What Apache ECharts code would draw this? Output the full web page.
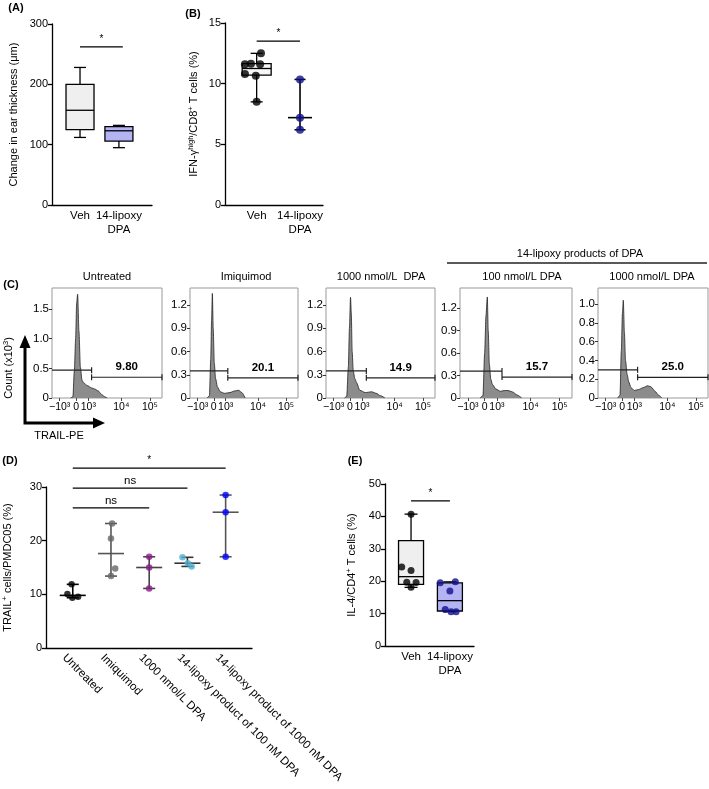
<!DOCTYPE html>
<html><head><meta charset="utf-8">
<script src="https://cdn.jsdelivr.net/npm/echarts@6/dist/echarts.min.js"></script>
<style>html,body{margin:0;padding:0;background:#fff}#c{width:709px;height:789px}</style>
</head><body><div id="c"></div>
<script>
// ---------- DATA ----------
// Panel A
const catsAE = ['Veh', '14-lipoxy\nDPA'];
const boxAVeh = [112, 125, 157, 200, 228];
const boxALipoxy = [95, 106, 123, 130, 132];
const sigA = [0, 1.1, 262, '*'];
// Panel B
const bVehValues = [12.5, 11.6, 11.65, 11.6, 10.8, 10.65, 8.5];
const bVehJitter = [0.1, -0.27, -0.13, 0.08, -0.27, -0.02, 0];
const bVehBox = [8.5, 10.7, 11.25, 11.65, 12.5];
const bLipoxyValues = [10.35, 7.2, 6.2];
const sigB = [0, 1, 13.5, '*'];
// Panel C
const histTitles = ['Untreated', 'Imiquimod', '1000 nmol/L  DPA', '100 nmol/L DPA', '1000 nmol/L DPA'];
const xTickPos = [0.07, 0.22, 0.33, 0.63, 0.89];
const xTickLabels = ['−10³', '0', '10³', '10⁴', '10⁵'];
const hx1 = [0.17, 0.19, 0.203, 0.215, 0.224, 0.233, 0.245, 0.258, 0.273, 0.29, 0.32, 0.36, 0.39, 0.42, 0.45, 0.48, 0.5];
const hy1 = [0, 0.02, 0.46, 1.0, 1.6, 1.75, 1.13, 0.52, 0.3, 0.25, 0.21, 0.17, 0.15, 0.12, 0.06, 0.02, 0];
const hx2 = [0.16, 0.18, 0.192, 0.2, 0.207, 0.215, 0.225, 0.237, 0.255, 0.28, 0.32, 0.37, 0.41, 0.45, 0.48, 0.51];
const hy2 = [0, 0.03, 0.5, 1.0, 1.35, 0.9, 0.45, 0.25, 0.14, 0.08, 0.06, 0.07, 0.09, 0.1, 0.07, 0];
const hx3 = [0.17, 0.19, 0.205, 0.215, 0.225, 0.232, 0.24, 0.25, 0.265, 0.28, 0.31, 0.36, 0.42, 0.46, 0.5, 0.54];
const hy3 = [0, 0.02, 0.4, 0.9, 1.3, 1.1, 0.6, 0.35, 0.25, 0.2, 0.1, 0.07, 0.08, 0.06, 0.03, 0];
const hx4 = [0.18, 0.205, 0.22, 0.232, 0.244, 0.252, 0.262, 0.275, 0.29, 0.32, 0.36, 0.4, 0.43, 0.47, 0.51, 0.55];
const hy4 = [0, 0.03, 0.6, 1.1, 1.35, 0.9, 0.45, 0.25, 0.18, 0.12, 0.09, 0.1, 0.1, 0.08, 0.04, 0];
const hx5 = [0.18, 0.2, 0.212, 0.222, 0.23, 0.24, 0.25, 0.265, 0.28, 0.3, 0.33, 0.37, 0.41, 0.45, 0.48, 0.52, 0.55, 0.58];
const hy5 = [0, 0.03, 0.5, 0.9, 1.04, 0.7, 0.4, 0.25, 0.17, 0.11, 0.08, 0.09, 0.11, 0.13, 0.12, 0.07, 0.03, 0];
const yMaxC = [1.855, 1.42, 1.42, 1.47, 1.17];
const yTicksC1 = [0, 0.5, 1.0, 1.5];
const yTicksC2 = [0, 0.3, 0.6, 0.9, 1.2];
const yTicksC5 = [0, 0.2, 0.4, 0.6, 0.8, 1.0];
const gateSplit = [0.36, 0.35, 0.37, 0.375, 0.36];
const gateLeftY = [0.47, 0.35, 0.35, 0.36, 0.3];
const gateRightY = [0.35, 0.26, 0.26, 0.28, 0.22];
const gatePct = ['9.80', '20.1', '14.9', '15.7', '25.0'];
// Panel D
const catsD = ['Untreated', 'Imiquimod', '1000 nmol/L DPA', '14-lipoxy product of 100 nM DPA', '14-lipoxy product of 1000 nM DPA'];
const dUntreated = [11.86, 10.06, 9.37, 9.55];
const dImiquimod = [23.2, 20.4, 14.8, 13.4];
const dDPA1000 = [17.0, 15.0, 11.1];
const dLipoxy100 = [16.9, 15.8, 15.2];
const dLipoxy1000 = [28.5, 25.3, 17.0];
const dJitUntreated = [-0.03, -0.14, -0.01, 0.14];
const dJitImiquimod = [0.03, 0, 0.11, 0];
const dJitDPA1000 = [0, 0, 0];
const dJitLipoxy100 = [-0.13, 0.01, 0.11];
const dJitLipoxy1000 = [0, 0, 0];
const sigD = [[0, 4, 33.5, '*'], [0, 3, 29.8, 'ns'], [0, 2, 26.1, 'ns']];
// Panel E
const eVehValues = [40.7, 24.4, 23.3, 19.7, 19.6, 18.1];
const eVehJitter = [0, -0.24, 0, -0.11, 0.13, 0];
const eVehBox = [18.1, 19.0, 21.4, 32.5, 40.7];
const eLipoxyValues = [19.5, 19.8, 17.0, 11.3, 10.6, 10.6];
const eLipoxyJitter = [-0.25, 0.14, 0, -0.12, 0.03, 0.16];
const eLipoxyBox = [10.6, 10.8, 14.0, 19.5, 19.8];
const sigE = [0, 1, 44.8, '*'];

// ---------- STYLES ----------
const F = "'Liberation Sans', Arial, Helvetica, sans-serif";
const BLACK = '#000';
const VEH_FILL = '#efefef';
const LIPOXY_FILL = '#b4b4f4';
const NAVY = '#10108a';
const dColors = ['#000000', '#666666', '#8a1a8a', '#4fb3cf', '#0000ff'];
const D_LABEL_SHIFT = 0.22;

const chart = echarts.init(document.getElementById('c'), null, {renderer: 'canvas', width: 709, height: 789});

const axLine = {show: true, onZero: false, lineStyle: {color: BLACK, width: 1.3}};
const axTick = {show: true, length: 4, lineStyle: {color: BLACK, width: 1.3}};
const axLabel = {color: BLACK, fontSize: 11, fontFamily: F, margin: 4};
const richName = {
  a: {fontSize: 11, fontFamily: F, color: BLACK, lineHeight: 12, verticalAlign: 'bottom'},
  s: {fontSize: 7.5, fontFamily: F, color: BLACK, lineHeight: 8, verticalAlign: 'top', padding: [0, 0, 5, 0]}
};

function nearestIdx(arr, v) {
  let b = 0; for (let i = 1; i < arr.length; i++) if (Math.abs(arr[i] - v) < Math.abs(arr[b] - v)) b = i; return b;
}

// ---------- RENDERERS ----------
function boxRender(fills, boxW, capW) {
  return function (params, api) {
    const x = api.value(0);
    const c = k => api.coord([x, api.value(k)]);
    const pMin = c(1), pQ1 = c(2), pMed = c(3), pQ3 = c(4), pMax = c(5);
    const cx = pMin[0];
    const st = {stroke: BLACK, lineWidth: 1.3};
    return {type: 'group', children: [
      {type: 'line', shape: {x1: cx, y1: pQ3[1], x2: cx, y2: pMax[1]}, style: st},
      {type: 'line', shape: {x1: cx, y1: pQ1[1], x2: cx, y2: pMin[1]}, style: st},
      {type: 'line', shape: {x1: cx - capW / 2, y1: pMax[1], x2: cx + capW / 2, y2: pMax[1]}, style: st},
      {type: 'line', shape: {x1: cx - capW / 2, y1: pMin[1], x2: cx + capW / 2, y2: pMin[1]}, style: st},
      {type: 'rect', shape: {x: cx - boxW / 2, y: pQ3[1], width: boxW, height: pQ1[1] - pQ3[1]}, style: {fill: fills[params.dataIndex], stroke: BLACK, lineWidth: 1.3}},
      {type: 'line', shape: {x1: cx - boxW / 2, y1: pMed[1], x2: cx + boxW / 2, y2: pMed[1]}, style: st}
    ]};
  };
}
function rangeRender(colors, medW, capW) {
  return function (params, api) {
    const x = api.value(0);
    const pMin = api.coord([x, api.value(1)]), pMed = api.coord([x, api.value(2)]), pMax = api.coord([x, api.value(3)]);
    const cx = pMin[0];
    const st = {stroke: colors[params.dataIndex], lineWidth: 1.6};
    return {type: 'group', children: [
      {type: 'line', shape: {x1: cx, y1: pMax[1], x2: cx, y2: pMin[1]}, style: st},
      {type: 'line', shape: {x1: cx - capW / 2, y1: pMax[1], x2: cx + capW / 2, y2: pMax[1]}, style: st},
      {type: 'line', shape: {x1: cx - capW / 2, y1: pMin[1], x2: cx + capW / 2, y2: pMin[1]}, style: st},
      {type: 'line', shape: {x1: cx - medW / 2, y1: pMed[1], x2: cx + medW / 2, y2: pMed[1]}, style: st}
    ]};
  };
}
function sigRender(labels) {
  return function (params, api) {
    const a = api.coord([api.value(0), api.value(2)]);
    const b = api.coord([api.value(1), api.value(2)]);
    const lab = labels[params.dataIndex];
    return {type: 'group', children: [
      {type: 'line', shape: {x1: a[0], y1: a[1], x2: b[0], y2: b[1]}, style: {stroke: BLACK, lineWidth: 1.3}},
      {type: 'text', x: (a[0] + b[0]) / 2, y: a[1] - (lab === '*' ? 3 : 1),
       style: {text: lab, align: 'center', verticalAlign: 'bottom', font: (lab === '*' ? '10px ' : '11.5px ') + F, fill: BLACK}}
    ]};
  };
}
function gateRender(label) {
  return function (params, api) {
    const s = api.value(0), yl = api.value(1), yr = api.value(2);
    const a = api.coord([0, yl]), b = api.coord([s, yl]);
    const c = api.coord([s, yr]), d = api.coord([1, yr]);
    const st = {stroke: '#222', lineWidth: 1.2};
    return {type: 'group', children: [
      {type: 'line', shape: {x1: a[0], y1: a[1], x2: b[0], y2: b[1]}, style: st},
      {type: 'line', shape: {x1: b[0], y1: b[1] - 3, x2: b[0], y2: b[1] + 3}, style: st},
      {type: 'line', shape: {x1: c[0], y1: c[1], x2: d[0], y2: d[1]}, style: st},
      {type: 'line', shape: {x1: c[0], y1: c[1] - 3, x2: c[0], y2: c[1] + 3}, style: st},
      {type: 'line', shape: {x1: d[0], y1: d[1] - 3, x2: d[0], y2: d[1] + 3}, style: st},
      {type: 'text', x: (c[0] + d[0]) / 2, y: c[1] - 10, style: {text: label, align: 'center', verticalAlign: 'middle', font: 'bold 11.5px ' + F, fill: BLACK}}
    ]};
  };
}
function median(arr) {
  const s = arr.slice().sort((p, q) => p - q); const n = s.length;
  return n % 2 ? s[(n - 1) / 2] : (s[n / 2 - 1] + s[n / 2]) / 2;
}

// ---------- GRIDS & AXES ----------
const cLefts = [52, 190, 326, 460, 598];
const cWidths = [110, 108, 109, 112, 110];
const grid = [
  {left: 52, top: 24, width: 100, height: 181},
  {left: 225, top: 23, width: 98, height: 182}
];
cLefts.forEach((l, k) => grid.push({left: l, top: 288, width: cWidths[k], height: 110, show: true, borderColor: '#999', borderWidth: 1, backgroundColor: 'transparent'}));
grid.push({left: 45, top: 487, width: 207, height: 161});
grid.push({left: 385, top: 484, width: 89, height: 162});

const catLabelAxis = (gi, min, max) => ({
  gridIndex: gi, type: 'value', min, max, axisLine: axLine, axisTick: {show: false}, splitLine: {show: false},
  axisLabel: Object.assign({}, axLabel, {fontSize: 11.5, lineHeight: 14, margin: 4, customValues: [0, 1], formatter: v => catsAE[Math.round(v)]})
});
const xAxis = [catLabelAxis(0, -0.72, 1.85), catLabelAxis(1, -0.73, 1.53)];
for (let k = 0; k < 5; k++) {
  xAxis.push({gridIndex: 2 + k, type: 'value', min: 0, max: 1, axisLine: {show: false, onZero: false}, splitLine: {show: false},
    axisTick: {show: true, length: 3, customValues: xTickPos, lineStyle: {color: '#444'}},
    axisLabel: {color: BLACK, fontSize: 10.5, fontFamily: F, margin: 4, customValues: xTickPos,
      formatter: v => xTickLabels[nearestIdx(xTickPos, v)]}});
}
xAxis.push({gridIndex: 7, type: 'value', min: -0.70, max: 4.69, axisLine: axLine, axisTick: {show: false}, splitLine: {show: false},
  axisLabel: Object.assign({}, axLabel, {fontSize: 11.5, rotate: -45, margin: 8,
    customValues: [0, 1, 2, 3, 4].map(i => i - D_LABEL_SHIFT), formatter: v => catsD[Math.round(v + D_LABEL_SHIFT)]})});
xAxis.push(catLabelAxis(8, -0.67, 1.62));

const yAx = (gi, max, interval, name, gap) => ({
  gridIndex: gi, type: 'value', min: 0, max, interval, axisLine: axLine, axisTick: axTick, splitLine: {show: false},
  axisLabel: axLabel, name, nameLocation: 'middle', nameGap: gap, nameRotate: 90,
  nameTextStyle: {fontSize: 11, fontFamily: F, color: BLACK, rich: richName}
});
const yAxis = [
  yAx(0, 300, 100, 'Change in ear thickness (μm)', 33),
  yAx(1, 15, 5, '{a|IFN-γ}{s|high}{a|/CD8}{s|+}{a| T cells (%)}', 26)
];
const yTicksList = [yTicksC1, yTicksC2, yTicksC2, yTicksC2, yTicksC5];
for (let k = 0; k < 5; k++) {
  const tv = yTicksList[k];
  yAxis.push({gridIndex: 2 + k, type: 'value', min: 0, max: yMaxC[k], axisLine: {show: false, onZero: false}, splitLine: {show: false},
    axisTick: {show: true, length: 3, customValues: tv, lineStyle: {color: '#333'}},
    axisLabel: {color: BLACK, fontSize: 11.5, fontFamily: F, margin: 3, customValues: tv, formatter: v => (Math.abs(v) < 1e-9 ? '0' : v.toFixed(1))}});
}
yAxis.push(yAx(7, 30, 10, '{a|TRAIL}{s|+}{a| cells/PMDC05 (%)}', 33));
yAxis.push(yAx(8, 50, 10, '{a|IL-4/CD4}{s|+}{a| T cells (%)}', 28));

// ---------- SERIES ----------
const series = [];
// A
series.push({type: 'custom', xAxisIndex: 0, yAxisIndex: 0, renderItem: boxRender([VEH_FILL, LIPOXY_FILL], 28, 12),
  data: [[0].concat(boxAVeh), [1].concat(boxALipoxy)], encode: {x: 0, y: [1, 2, 3, 4, 5]}, z: 2});
series.push({type: 'custom', xAxisIndex: 0, yAxisIndex: 0, renderItem: sigRender([sigA[3]]), data: [sigA.slice(0, 3)], encode: {x: [0, 1], y: 2}, clip: false});
// B
series.push({type: 'custom', xAxisIndex: 1, yAxisIndex: 1, renderItem: boxRender(['#f6f6f6'], 29, 12),
  data: [[0].concat(bVehBox)], encode: {x: 0, y: [1, 2, 3, 4, 5]}, z: 2});
series.push({type: 'custom', xAxisIndex: 1, yAxisIndex: 1, renderItem: rangeRender([BLACK], 24, 11),
  data: [[1, Math.min(...bLipoxyValues), median(bLipoxyValues), Math.max(...bLipoxyValues)]], encode: {x: 0, y: [1, 2, 3]}, z: 2});
series.push({type: 'scatter', xAxisIndex: 1, yAxisIndex: 1, symbolSize: 8, z: 3,
  data: bVehValues.map((v, i) => ({value: [0 + bVehJitter[i], v], itemStyle: {color: BLACK}}))
    .concat(bLipoxyValues.map(v => ({value: [1, v], itemStyle: {color: NAVY}})))});
series.push({type: 'custom', xAxisIndex: 1, yAxisIndex: 1, renderItem: sigRender([sigB[3]]), data: [sigB.slice(0, 3)], encode: {x: [0, 1], y: 2}, clip: false});
// C
const hxs = [hx1, hx2, hx3, hx4, hx5], hys = [hy1, hy2, hy3, hy4, hy5];
for (let k = 0; k < 5; k++) {
  series.push({type: 'line', xAxisIndex: 2 + k, yAxisIndex: 2 + k, symbol: 'none', smooth: 0.25, smoothMonotone: 'x',
    data: hxs[k].map((x, i) => [x, hys[k][i]]), lineStyle: {color: '#222', width: 0.8}, areaStyle: {color: '#8c8c8c', opacity: 1}, z: 2});
  series.push({type: 'custom', xAxisIndex: 2 + k, yAxisIndex: 2 + k, renderItem: gateRender(gatePct[k]),
    data: [[gateSplit[k], gateLeftY[k], gateRightY[k]]], encode: {x: 0, y: [1, 2]}, z: 3});
}
// D
const dGroups = [dUntreated, dImiquimod, dDPA1000, dLipoxy100, dLipoxy1000];
const dJits = [dJitUntreated, dJitImiquimod, dJitDPA1000, dJitLipoxy100, dJitLipoxy1000];
const dBarColors = ['#000', '#555', '#444', '#333', '#555'];
series.push({type: 'custom', xAxisIndex: 7, yAxisIndex: 7, renderItem: rangeRender(dBarColors, 26, 12),
  data: dGroups.map((g, i) => [i, Math.min(...g), median(g), Math.max(...g)]), encode: {x: 0, y: [1, 2, 3]}, z: 2});
const dPts = [];
dGroups.forEach((g, i) => g.forEach((v, j) => dPts.push({value: [i + dJits[i][j], v], itemStyle: {color: dColors[i]}})));
series.push({type: 'scatter', xAxisIndex: 7, yAxisIndex: 7, symbolSize: 6.5, z: 3, data: dPts});
series.push({type: 'custom', xAxisIndex: 7, yAxisIndex: 7, renderItem: sigRender(sigD.map(s => s[3])),
  data: sigD.map(s => s.slice(0, 3)), encode: {x: [0, 1], y: 2}, clip: false});
// E
series.push({type: 'custom', xAxisIndex: 8, yAxisIndex: 8, renderItem: boxRender([VEH_FILL, LIPOXY_FILL], 25, 13),
  data: [[0].concat(eVehBox), [1].concat(eLipoxyBox)], encode: {x: 0, y: [1, 2, 3, 4, 5]}, z: 2});
series.push({type: 'scatter', xAxisIndex: 8, yAxisIndex: 8, symbolSize: 7, z: 3,
  data: eVehValues.map((v, i) => ({value: [eVehJitter[i], v], itemStyle: {color: BLACK}}))
    .concat(eLipoxyValues.map((v, i) => ({value: [1 + eLipoxyJitter[i], v], itemStyle: {color: NAVY}})))});
series.push({type: 'custom', xAxisIndex: 8, yAxisIndex: 8, renderItem: sigRender([sigE[3]]), data: [sigE.slice(0, 3)], encode: {x: [0, 1], y: 2}, clip: false});

// ---------- DECORATION TEXT ----------
const txt = (x, y, text, opts) => Object.assign({type: 'text', x, y, style: Object.assign({text, fill: BLACK, font: '11px ' + F, align: 'center', verticalAlign: 'middle'}, opts || {})});
const titleCenters = [107, 246, 381, 522, 652];
const graphic = [
  txt(16, 8, '(A)', {font: 'bold 11px ' + F}),
  txt(193, 14, '(B)', {font: 'bold 11px ' + F}),
  txt(11, 285, '(C)', {font: 'bold 11px ' + F}),
  txt(10, 461, '(D)', {font: 'bold 11px ' + F}),
  txt(355, 461, '(E)', {font: 'bold 11px ' + F}),
  txt(580, 254, '14-lipoxy products of DPA', {font: '11px ' + F}),
  {type: 'line', shape: {x1: 447, y1: 263, x2: 707, y2: 263}, style: {stroke: '#222', lineWidth: 1.5}},
  {type: 'polyline', shape: {points: [[25, 345], [25, 423], [96, 423]]}, style: {stroke: BLACK, lineWidth: 3, fill: null}},
  {type: 'polygon', shape: {points: [[25, 335], [19.5, 348], [30.5, 348]]}, style: {fill: BLACK}},
  {type: 'polygon', shape: {points: [[105, 423], [93, 417.5], [93, 428.5]]}, style: {fill: BLACK}},
  {type: 'text', x: 8, y: 368, rotation: Math.PI / 2,
   style: {text: '{a|Count (x10}{s|3}{a|)}', rich: richName, align: 'center', verticalAlign: 'middle', fill: BLACK}},
  txt(59, 436, 'TRAIL-PE', {font: '11px ' + F})
];
histTitles.forEach((t, k) => graphic.push(txt(titleCenters[k], 277, t, {font: '11px ' + F})));

chart.setOption({
  backgroundColor: '#fff',
  animation: false,
  textStyle: {fontFamily: F},
  grid, xAxis, yAxis, series, graphic
});
</script>
</body></html>
